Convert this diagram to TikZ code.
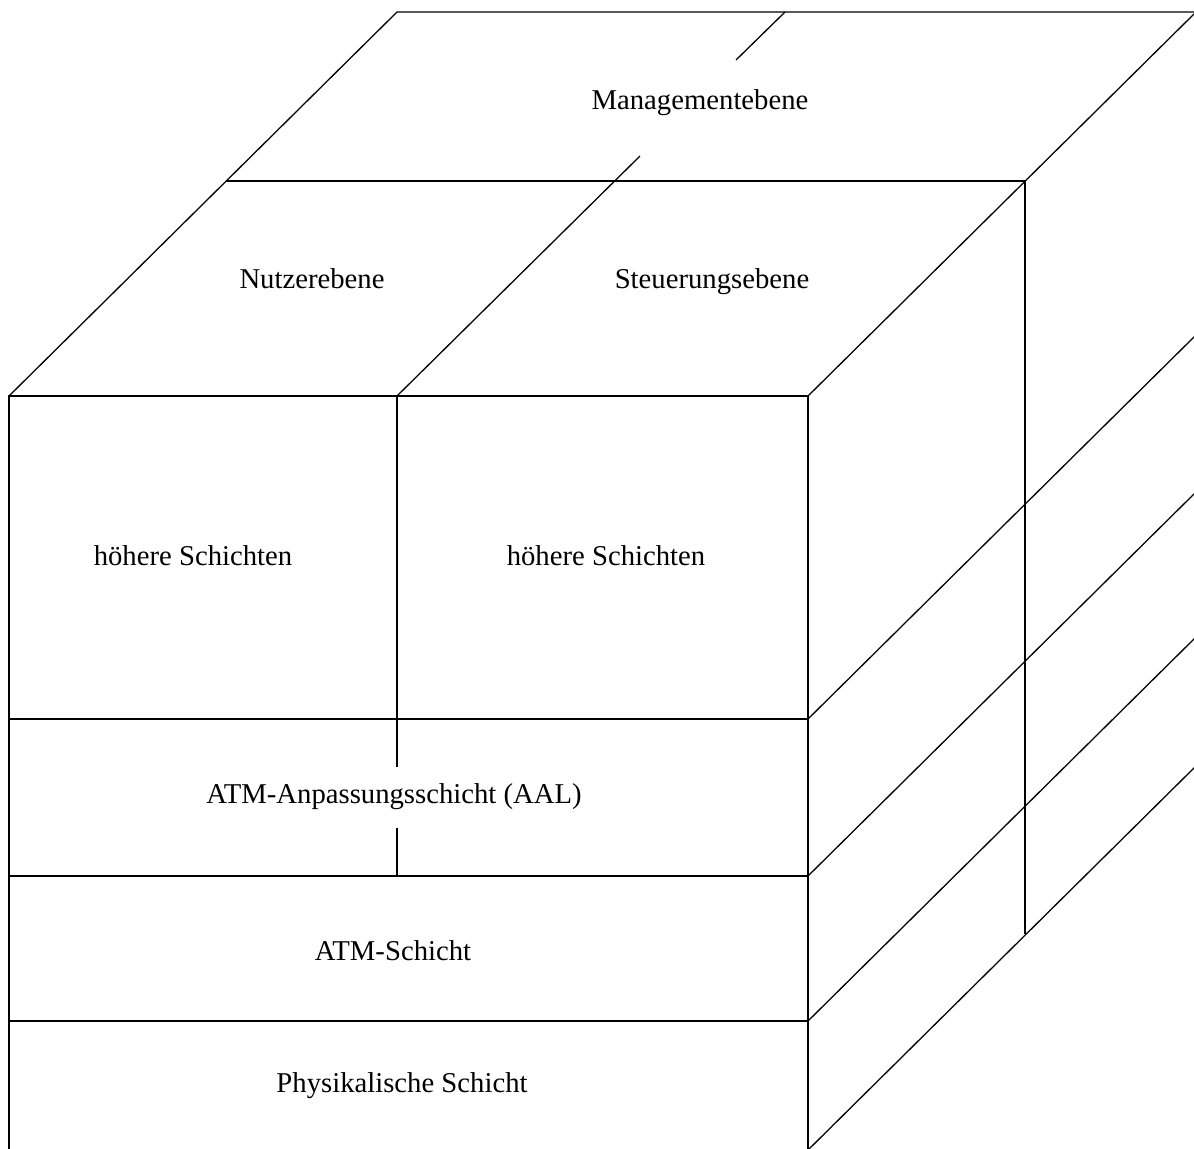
\documentclass[tikz,border=0pt]{standalone}
\usepackage{fontspec}
\setmainfont{Liberation Serif}

\begin{document}
\begin{tikzpicture}[x=0.5pt,y=-0.5pt,
  edge/.style={black, line width=0.65pt},
  lbl/.style={font=\fontsize{14.35}{17}\selectfont, inner sep=0pt, anchor=base}
]
\useasboundingbox (0,0) rectangle (1194,1148);
% front face
\draw[edge] (9,1150) -- (9,396) -- (808,396) -- (808,1150);
\foreach \y in {719,876,1021}{
  \draw[edge] (9,\y) -- (808,\y);
}
% side face
\foreach \y in {396,719,876,1021,1150}{
  \draw[edge] (808,\y) -- ++(388,-384);
}
% top face
\draw[edge] (9,396) -- (397,12) -- (1196,12);
\draw[edge] (226,181) -- (1025,181) -- (1025,934);
% plane divider, broken for the labels
\draw[edge] (397,396) -- (397,767) (397,828) -- (397,876);
\draw[edge] (397,396) -- (640,156) (736,60) -- (785,12);
\foreach \x/\y/\name/\txt in {700/109/mgmt/Managementebene,
    312/288/user/Nutzerebene,712/288/ctrl/Steuerungsebene,
    193/565/hsUser/höhere Schichten,606/565/hsCtrl/höhere Schichten,
    394/803/aal/ATM-Anpassungsschicht (AAL),393/960/atm/ATM-Schicht,
    402/1092/phy/Physikalische Schicht}{
  \node[lbl] (\name) at (\x,\y) {\txt};
}
\end{tikzpicture}
\end{document}
